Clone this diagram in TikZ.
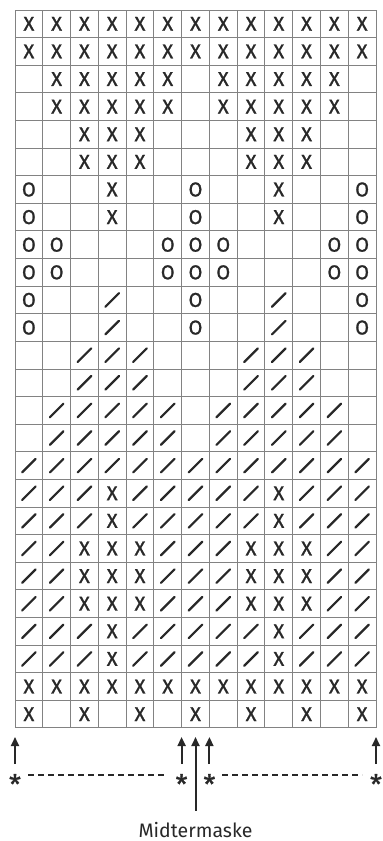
\documentclass[tikz,border=0pt]{standalone}
\usepackage{fontspec}
\setmainfont{Fira Sans}
\newfontface\chartfont[FakeBold=1.2]{Fira Sans}
\usepackage{tikz}
\usetikzlibrary{
  arrows.meta,
  positioning
}
\usepackage{xcolor}
\definecolor{gridgray}{RGB}{130, 130, 130}
\definecolor{inkgray} {RGB}{ 40,  40,  40}
\tikzset{
  gridline/.style={draw=gridgray, line width=1pt},
  stitch/.style={inner sep=0pt, text=inkgray, font=\chartfont\fontsize{20}{20}\selectfont},
  slashmark/.style={draw=inkgray, line width=2.2pt, line cap=round},
  arrowmark/.style={-{Triangle[length=9pt, width=8pt]}, draw=inkgray, line width=2pt},
  repeatline/.style={draw=inkgray, line width=1.5pt, dash pattern=on 6pt off 4pt},
  starmark/.style={inner sep=0pt, minimum width=20pt, text=inkgray,
    font=\chartfont\fontsize{27}{27}\selectfont},
  caption/.style={inner sep=0pt, text=inkgray, font=\fontsize{19.5}{19.5}\selectfont},
}
% cell centre of column #1, row #2
\newcommand{\cellx}[1]{15+(#1-0.5)*27.77}
\newcommand{\celly}[1]{10+(#1-0.5)*27.615}
\newcommand{\stitchx}[2]{\node[stitch] at ({\cellx{#1}},{\celly{#2}}) {X};}
\newcommand{\stitcho}[2]{\node[stitch] at ({\cellx{#1}},{\celly{#2}}) {O};}
\newcommand{\stitchs}[2]{\draw[slashmark, shift={({\cellx{#1}},{\celly{#2}})}] (-6.8,6.8) -- (6.8,-6.8);}
\newcommand{\stitche}[2]{}

\begin{document}
\begin{tikzpicture}[x=1pt, y=-1pt]
\useasboundingbox (0,0) rectangle (383,841);

% ── Grid ──────────────────────────────────────────────────────────────────────
\foreach \k in {0,...,13}
  \draw[gridline] ({15+\k*27.77},10) -- ({15+\k*27.77},728);
\foreach \r in {0,...,26}
  \draw[gridline] (15,{10+\r*27.615}) -- (376,{10+\r*27.615});

% ── Stitches (top row first) ──────────────────────────────────────────────────
\foreach \row [count=\r] in {
  {x,x,x,x,x,x,x,x,x,x,x,x,x},
  {x,x,x,x,x,x,x,x,x,x,x,x,x},
  {e,x,x,x,x,x,e,x,x,x,x,x,e},
  {e,x,x,x,x,x,e,x,x,x,x,x,e},
  {e,e,x,x,x,e,e,e,x,x,x,e,e},
  {e,e,x,x,x,e,e,e,x,x,x,e,e},
  {o,e,e,x,e,e,o,e,e,x,e,e,o},
  {o,e,e,x,e,e,o,e,e,x,e,e,o},
  {o,o,e,e,e,o,o,o,e,e,e,o,o},
  {o,o,e,e,e,o,o,o,e,e,e,o,o},
  {o,e,e,s,e,e,o,e,e,s,e,e,o},
  {o,e,e,s,e,e,o,e,e,s,e,e,o},
  {e,e,s,s,s,e,e,e,s,s,s,e,e},
  {e,e,s,s,s,e,e,e,s,s,s,e,e},
  {e,s,s,s,s,s,e,s,s,s,s,s,e},
  {e,s,s,s,s,s,e,s,s,s,s,s,e},
  {s,s,s,s,s,s,s,s,s,s,s,s,s},
  {s,s,s,x,s,s,s,s,s,x,s,s,s},
  {s,s,s,x,s,s,s,s,s,x,s,s,s},
  {s,s,x,x,x,s,s,s,x,x,x,s,s},
  {s,s,x,x,x,s,s,s,x,x,x,s,s},
  {s,s,x,x,x,s,s,s,x,x,x,s,s},
  {s,s,s,x,s,s,s,s,s,x,s,s,s},
  {s,s,s,x,s,s,s,s,s,x,s,s,s},
  {x,x,x,x,x,x,x,x,x,x,x,x,x},
  {x,e,x,e,x,e,x,e,x,e,x,e,x}}
  \foreach \st [count=\k] in \row {
    \csname stitch\st\endcsname{\k}{\r}
  };

% ── Repeat markers ────────────────────────────────────────────────────────────
\node[starmark] (starL)  at (15,   784) {*};
\node[starmark] (starML) at (181.6,784) {*};
\node[starmark] (starMR) at (209.4,784) {*};
\node[starmark] (starR)  at (376,  784) {*};

\coordinate (baseL)  at (15,   764);
\coordinate (baseML) at (181.6,764);
\coordinate (baseMR) at (209.4,764);
\coordinate (baseR)  at (376,  764);
\coordinate (tipL)   at (15,   737);
\coordinate (tipML)  at (181.6,737);
\coordinate (tipMR)  at (209.4,737);
\coordinate (tipR)   at (376,  737);

\draw[arrowmark] (baseL)  -- (tipL);
\draw[arrowmark] (baseML) -- (tipML);
\draw[arrowmark] (baseMR) -- (tipMR);
\draw[arrowmark] (baseR)  -- (tipR);

\coordinate (dashL1) at (28, 775);
\coordinate (dashL2) at (164,775);
\coordinate (dashR1) at (222,775);
\coordinate (dashR2) at (362,775);
\draw[repeatline] (dashL1) -- (dashL2);
\draw[repeatline] (dashR1) -- (dashR2);

% ── Centre stitch ─────────────────────────────────────────────────────────────
\node[caption, anchor=base] (midlabel) at (195.5,837) {Midtermaske};
\coordinate (tipM) at (195.5,737);
\draw[arrowmark] ([yshift=11pt]midlabel.north) -- (tipM);

\end{tikzpicture}
\end{document}
